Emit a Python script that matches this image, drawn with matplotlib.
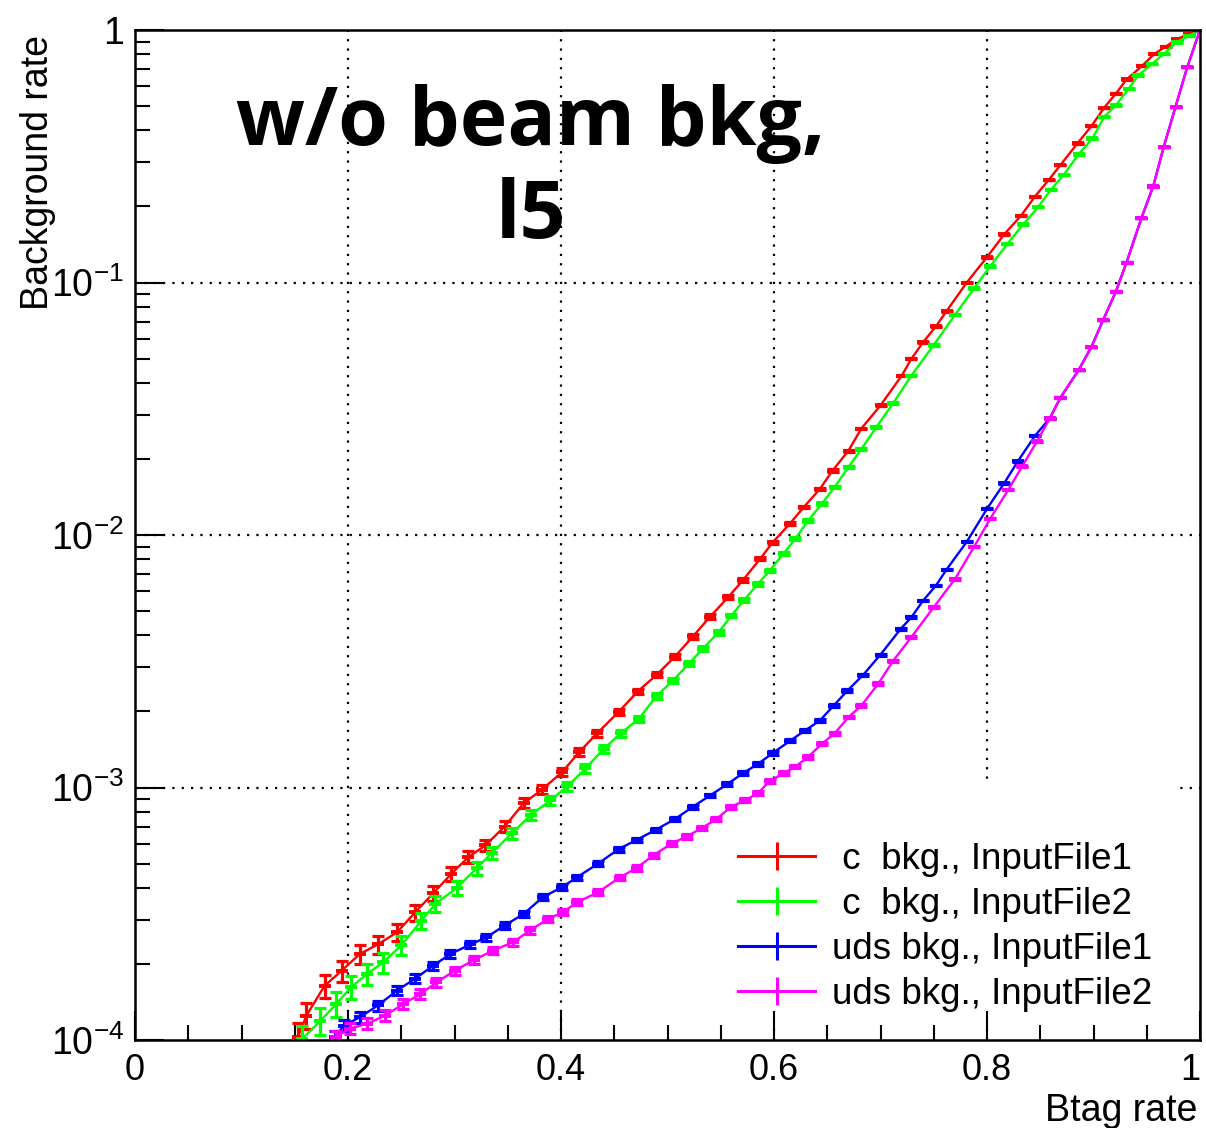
import matplotlib
matplotlib.use('Agg')
import matplotlib.pyplot as plt
from matplotlib.ticker import FixedLocator, MultipleLocator, LogLocator, NullFormatter
from matplotlib.lines import Line2D
from matplotlib.patches import Rectangle
import numpy as np

plt.rcParams['font.family'] = ['Liberation Sans', 'DejaVu Sans']
plt.rcParams['mathtext.fontset'] = 'custom'
plt.rcParams['mathtext.rm'] = 'Liberation Sans'
plt.rcParams['mathtext.it'] = 'Liberation Sans:italic'
plt.rcParams['mathtext.bf'] = 'Liberation Sans:bold'

# ---------------- data ----------------
c1_x = [0.153, 0.161, 0.178, 0.194, 0.211, 0.228, 0.246, 0.263, 0.280, 0.297,
        0.313, 0.329, 0.347, 0.365, 0.382, 0.401, 0.417, 0.434, 0.454, 0.472,
        0.490, 0.507, 0.524, 0.540, 0.557, 0.571, 0.587, 0.599, 0.615, 0.628,
        0.643, 0.655, 0.670, 0.682, 0.700, 0.720, 0.729, 0.740, 0.752, 0.762,
        0.781, 0.800, 0.816, 0.832, 0.845, 0.858, 0.869, 0.885, 0.898, 0.910,
        0.921, 0.931, 0.946, 0.957, 0.968, 0.978, 0.990, 1.0]
c1_y = [1.03e-4, 1.25e-4, 1.64e-4, 1.88e-4, 2.19e-4, 2.39e-4, 2.67e-4, 3.2e-4, 3.81e-4, 4.55e-4,
        5.3e-4, 5.9e-4, 7.0e-4, 8.67e-4, 9.8e-4, 1.15e-3, 1.38e-3, 1.64e-3, 1.99e-3, 2.4e-3,
        2.8e-3, 3.3e-3, 3.97e-3, 4.75e-3, 5.67e-3, 6.64e-3, 8.05e-3, 9.37e-3, 0.0111, 0.0129,
        0.0152, 0.018, 0.0216, 0.0264, 0.0326, 0.0428, 0.0499, 0.058, 0.067, 0.077,
        0.1, 0.126, 0.155, 0.184, 0.219, 0.255, 0.292, 0.356, 0.416, 0.492,
        0.56, 0.637, 0.723, 0.804, 0.86, 0.92, 0.965, 1.0]
c1_err_pct = [13, 11.7, 10.4, 9.5, 8.8, 8.5, 7.9, 7.3, 6.6, 6.1,
              5.6, 5.3, 4.9, 4.4, 4.2, 3.8, 3.5, 3.2, 2.9, 2.6,
              2.5, 2.2, 2.1, 2.0, 1.7, 1.6, 1.4, 1.3, 1.2, 1.2,
              1.0, 1.0, 0.9, 0.8, 0.7, 0.65, 0.6, 0.5, 0.5, 0.45,
              0.4, 0.4, 0.3, 0.3, 0.25, 0.25, 0.25, 0.25, 0.2, 0.2,
              0.2, 0.15, 0.15, 0.1, 0.1, 0.1, 0.1, 0.0]

c2_x = [0.157, 0.174, 0.189, 0.203, 0.218, 0.233, 0.250, 0.269, 0.282, 0.302,
        0.321, 0.335, 0.354, 0.372, 0.390, 0.406, 0.423, 0.440, 0.456, 0.473,
        0.490, 0.505, 0.520, 0.533, 0.548, 0.560, 0.572, 0.585, 0.596, 0.609,
        0.620, 0.632, 0.645, 0.657, 0.670, 0.682, 0.696, 0.712, 0.729, 0.750,
        0.770, 0.788, 0.803, 0.819, 0.834, 0.848, 0.860, 0.872, 0.886, 0.899,
        0.910, 0.921, 0.933, 0.942, 0.955, 0.966, 0.978, 0.990, 1.0]
c2_y = [1.01e-4, 1.19e-4, 1.39e-4, 1.62e-4, 1.83e-4, 2.03e-4, 2.37e-4, 2.97e-4, 3.46e-4, 4.0e-4,
        4.8e-4, 5.5e-4, 6.6e-4, 7.8e-4, 8.9e-4, 1.01e-3, 1.19e-3, 1.42e-3, 1.64e-3, 1.87e-3,
        2.31e-3, 2.65e-3, 3.09e-3, 3.54e-3, 4.12e-3, 4.8e-3, 5.53e-3, 6.41e-3, 7.23e-3, 8.45e-3,
        9.66e-3, 0.0114, 0.0133, 0.0155, 0.0186, 0.0219, 0.0267, 0.0333, 0.0428, 0.0566,
        0.0745, 0.095, 0.116, 0.142, 0.170, 0.199, 0.233, 0.267, 0.322, 0.372,
        0.453, 0.503, 0.586, 0.661, 0.734, 0.804, 0.893, 0.95, 1.0]
c2_err_pct = [13, 12, 11, 10.3, 9.6, 9.1, 8.5, 7.5, 7.0, 6.5,
              6.0, 5.6, 5.1, 4.7, 4.4, 4.0, 3.8, 3.5, 3.3, 3.0,
              2.7, 2.5, 2.3, 2.2, 2.1, 1.8, 1.7, 1.6, 1.6, 1.4,
              1.3, 1.2, 1.2, 1.0, 1.0, 0.9, 0.8, 0.7, 0.65, 0.6,
              0.5, 0.45, 0.4, 0.4, 0.3, 0.3, 0.25, 0.25, 0.25, 0.2,
              0.2, 0.2, 0.15, 0.15, 0.1, 0.1, 0.1, 0.1, 0.0]

uds1_x = [0.188, 0.196, 0.211, 0.228, 0.246, 0.263, 0.280, 0.296, 0.315, 0.330,
          0.347, 0.365, 0.383, 0.401, 0.415, 0.435, 0.454, 0.471, 0.489, 0.507,
          0.524, 0.540, 0.556, 0.571, 0.585, 0.599, 0.615, 0.629, 0.643, 0.656,
          0.669, 0.684, 0.700, 0.719, 0.729, 0.740, 0.752, 0.762, 0.781, 0.800,
          0.816, 0.829, 0.845, 0.859, 0.869, 0.886, 0.898, 0.909, 0.921, 0.931,
          0.945, 0.956, 0.966, 0.977, 0.988, 1.0]
uds1_y = [1.03e-4, 1.14e-4, 1.23e-4, 1.37e-4, 1.57e-4, 1.75e-4, 1.97e-4, 2.19e-4, 2.39e-4, 2.55e-4,
          2.84e-4, 3.16e-4, 3.68e-4, 4.03e-4, 4.41e-4, 5.0e-4, 5.7e-4, 6.2e-4, 6.8e-4, 7.5e-4,
          8.4e-4, 9.3e-4, 1.03e-3, 1.14e-3, 1.24e-3, 1.37e-3, 1.53e-3, 1.68e-3, 1.84e-3, 2.11e-3,
          2.42e-3, 2.8e-3, 3.36e-3, 4.25e-3, 4.72e-3, 5.5e-3, 6.3e-3, 7.3e-3, 9.4e-3, 0.0127,
          0.016, 0.0196, 0.0247, 0.029, 0.035, 0.045, 0.0555, 0.071, 0.092, 0.12,
          0.18, 0.24, 0.345, 0.496, 0.712, 1.0]
uds1_err_pct = [5.3, 5.0, 4.8, 4.6, 4.3, 4.0, 3.8, 3.6, 3.5, 3.3,
                3.2, 3.0, 2.8, 2.7, 2.5, 2.4, 2.2, 2.1, 2.0, 1.95,
                1.85, 1.75, 1.7, 1.6, 1.5, 1.45, 1.4, 1.3, 1.25, 1.2,
                1.1, 1.0, 0.9, 0.8, 0.8, 0.7, 0.7, 0.6, 0.55, 0.5,
                0.4, 0.4, 0.35, 0.3, 0.3, 0.25, 0.2, 0.2, 0.15, 0.15,
                0.1, 0.1, 0.1, 0.1, 0.05, 0.0]

uds2_x = [0.189, 0.202, 0.218, 0.235, 0.252, 0.268, 0.283, 0.300, 0.318, 0.336,
          0.355, 0.371, 0.388, 0.402, 0.415, 0.435, 0.455, 0.471, 0.487, 0.504,
          0.518, 0.532, 0.546, 0.560, 0.573, 0.585, 0.596, 0.609, 0.620, 0.632,
          0.645, 0.657, 0.670, 0.682, 0.698, 0.712, 0.729, 0.750, 0.770, 0.788,
          0.803, 0.820, 0.833, 0.847, 0.859, 0.869, 0.886, 0.898, 0.909, 0.921,
          0.931, 0.945, 0.956, 0.966, 0.977, 0.988, 1.0]
uds2_y = [1.03e-4, 1.11e-4, 1.16e-4, 1.25e-4, 1.39e-4, 1.52e-4, 1.69e-4, 1.88e-4, 2.07e-4, 2.26e-4,
          2.44e-4, 2.72e-4, 3.02e-4, 3.21e-4, 3.51e-4, 3.85e-4, 4.4e-4, 4.8e-4, 5.4e-4, 6.0e-4,
          6.4e-4, 6.9e-4, 7.5e-4, 8.4e-4, 8.9e-4, 9.5e-4, 1.06e-3, 1.14e-3, 1.21e-3, 1.32e-3,
          1.49e-3, 1.64e-3, 1.9e-3, 2.11e-3, 2.58e-3, 3.18e-3, 3.94e-3, 5.18e-3, 6.7e-3, 9.0e-3,
          0.0116, 0.0151, 0.0187, 0.0235, 0.029, 0.035, 0.045, 0.0555, 0.071, 0.092,
          0.12, 0.18, 0.24, 0.345, 0.496, 0.712, 1.0]
uds2_err_pct = [5.3, 5.1, 5.0, 4.8, 4.5, 4.3, 4.1, 3.9, 3.7, 3.5,
                3.4, 3.2, 3.0, 2.9, 2.8, 2.7, 2.5, 2.4, 2.3, 2.2,
                2.1, 2.0, 1.95, 1.85, 1.8, 1.75, 1.65, 1.6, 1.55, 1.5,
                1.4, 1.3, 1.2, 1.15, 1.05, 0.95, 0.85, 0.75, 0.65, 0.55,
                0.5, 0.45, 0.4, 0.35, 0.3, 0.3, 0.25, 0.2, 0.2, 0.15,
                0.15, 0.1, 0.1, 0.1, 0.1, 0.05, 0.0]

labels = [' c  bkg., InputFile1', ' c  bkg., InputFile2',
          'uds bkg., InputFile1', 'uds bkg., InputFile2']
colors = ['#ff0000', '#00ff00', '#0000ff', '#ff00ff']

x_ticks = [0, 0.2, 0.4, 0.6, 0.8, 1.0]
x_ticklabels = ['0', '0.2', '0.4', '0.6', '0.8', '1']
y_ticks = [1e-4, 1e-3, 1e-2, 1e-1, 1]
y_ticklabels = [r'$\mathregular{10^{-4}}$', r'$\mathregular{10^{-3}}$',
                r'$\mathregular{10^{-2}}$', r'$\mathregular{10^{-1}}$', '1']

# ---------------- figure ----------------
W, H = 1206, 1128
L, R, T, B = 135, 1200, 30, 1040
fig = plt.figure(figsize=(W / 100, H / 100), dpi=100)
ax = fig.add_axes([L / W, 1 - B / H, (R - L) / W, (B - T) / H])
ax.set_yscale('log')
ax.set_xlim(0, 1)
ax.set_ylim(1e-4, 1)

# dotted grid at major ticks (drawn low so the legend box hides it)
for xv in x_ticks[1:-1]:
    ax.axvline(xv, color='black', lw=1.6, ls=(0, (1, 3.2)), zorder=0.5)
for yv in y_ticks[1:-1]:
    ax.axhline(yv, color='black', lw=1.6, ls=(0, (1, 3.2)), zorder=0.5)

def px2ax(xp, yp):
    return (xp - L) / (R - L), (B - yp) / (B - T)

# white legend box (covers grid, but curves are drawn on top)
x0, y1 = px2ax(707, 783)
x1, y0 = px2ax(1175, 1025)
ax.add_patch(Rectangle((x0, y0), x1 - x0, y1 - y0, transform=ax.transAxes,
                       facecolor='white', edgecolor='none', zorder=1))

series = [(c1_x, c1_y, c1_err_pct), (c2_x, c2_y, c2_err_pct),
          (uds1_x, uds1_y, uds1_err_pct), (uds2_x, uds2_y, uds2_err_pct)]
for i, ((xs, ys, ep), col) in enumerate(zip(series, colors)):
    yarr = np.array(ys)
    err = yarr * np.array(ep) / 100.0
    z = 3 + i * 0.1
    ax.plot(xs, ys, color=col, lw=1.7, zorder=z)
    ax.errorbar(xs, ys, yerr=err, fmt='none', ecolor=col, elinewidth=2.3,
                capsize=4.5, capthick=2.3, zorder=z)
    ax.plot(xs, ys, ls='none', marker='_', ms=8, mew=2.8, color=col, zorder=z)

# axes styling
for sp in ax.spines.values():
    sp.set_linewidth(1.8)
    sp.set_zorder(5)
ax.xaxis.set_major_locator(FixedLocator(x_ticks))
ax.xaxis.set_minor_locator(MultipleLocator(0.05))
ax.set_xticklabels(x_ticklabels)
ax.yaxis.set_major_locator(FixedLocator(y_ticks))
ax.yaxis.set_minor_locator(LogLocator(base=10, subs=np.arange(2, 10), numticks=20))
ax.yaxis.set_minor_formatter(NullFormatter())
ax.set_yticklabels(y_ticklabels)
ax.tick_params(which='both', direction='in', top=False, right=False, width=1.5, zorder=4)
ax.tick_params(which='major', length=21)
ax.tick_params(which='minor', length=11)
ax.tick_params(axis='x', labelsize=26, pad=9)
ax.tick_params(axis='y', labelsize=27, pad=8)
ax.get_xticklabels()[-1].set_horizontalalignment('right')
ax.get_xticklabels()[-1].set_x(1.0)

ax.set_ylabel('Background rate', fontsize=27, loc='top')
ax.yaxis.set_label_coords(-0.074, 0.995)
ax.set_xlabel('Btag rate', fontsize=27, loc='right')
ax.xaxis.set_label_coords(0.998, -0.052)

# legend
handles = [Line2D([], [], color=c, lw=2.2, marker='|', ms=20, mew=2.2) for c in colors]
lx, ly = px2ax(738, 927)
leg = ax.legend(handles, labels, loc='center left', bbox_to_anchor=(lx, ly),
                frameon=False, fontsize=26.5, handlelength=2.1, handletextpad=0.45,
                labelspacing=0.27, borderpad=0, borderaxespad=0)
leg.set_zorder(6)

# big annotation text
fig.text(531 / W, 1 - 145 / H, 'w/o beam bkg,', ha='center', va='baseline',
         fontsize=58, fontweight='bold', family=['Open Sans', 'DejaVu Sans'])
fig.text(531 / W, 1 - 238 / H, 'l5', ha='center', va='baseline',
         fontsize=58, fontweight='bold', family=['Open Sans', 'DejaVu Sans'])

fig.savefig('out.png', dpi=100)
